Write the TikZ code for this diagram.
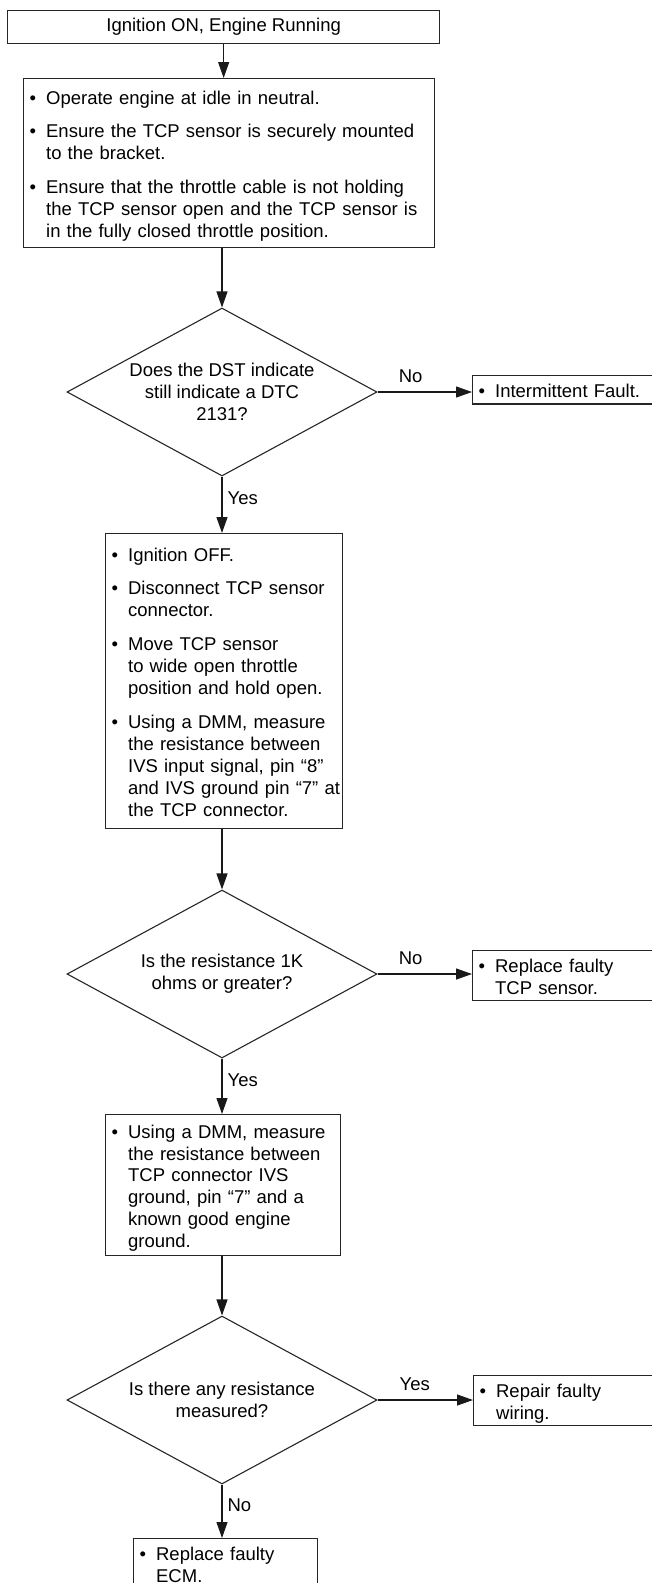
\documentclass[tikz,border=0pt]{standalone}
\usepackage{fontspec}
\setmainfont{Liberation Sans}
\usetikzlibrary{arrows.meta,shapes.geometric}
\newcommand{\flowfont}{\fontsize{18.5pt}{21.8pt}\selectfont}
\newcommand{\itm}[1]{\par\noindent\hbox to 16.5pt{\textbullet\hfil}\begin{tabular}[t]{@{}l@{}}#1\end{tabular}\par}
\newcommand{\itmgap}{\vspace{11.5pt}}
\begin{document}
\begin{tikzpicture}[
    x=1pt,
    y=-1pt,
    box/.style={draw=black!85, line width=1.3pt, inner xsep=6pt, inner ysep=0pt, font=\flowfont, anchor=north west},
    quest/.style={diamond, draw=black!85, line width=1.1pt, minimum width=310pt, minimum height=168pt, inner sep=0pt},
    qtxt/.style={font=\flowfont, align=center, inner sep=0pt},
    arr/.style={-{Triangle[length=16pt,width=11pt]}, line width=1.2pt, draw=black!90},
    ans/.style={font=\flowfont, inner sep=0pt}
]
\useasboundingbox (0,0) rectangle (652,1583);

\node[box, minimum width=432pt, minimum height=33pt] (start) at (7,10) {Ignition ON, Engine Running};
\node[box, text width=399pt, minimum height=169pt] (prep) at (23,78) {%
  \itm{Operate engine at idle in neutral.}\itmgap
  \itm{Ensure the TCP sensor is securely mounted\\to the bracket.}\itmgap
  \itm{Ensure that the throttle cable is not holding\\the TCP sensor open and the TCP sensor is\\in the fully closed throttle position.}};

\node[quest] (q1) at (222,392) {};
\node[qtxt] (q1t) at (q1.center) {Does the DST indicate\\still indicate a DTC\\2131?};
\node[box, text width=216pt, minimum height=28pt] (fault) at (472,375) {\itm{Intermittent Fault.}};

\node[box, text width=225pt, minimum height=295pt] (meas1) at (105,533) {%
  \itm{Ignition OFF.}\itmgap
  \itm{Disconnect TCP sensor\\connector.}\itmgap
  \itm{Move TCP sensor\\to wide open throttle\\position and hold open.}\itmgap
  \itm{Using a DMM, measure\\the resistance between\\IVS input signal, pin “8”\\and IVS ground pin “7” at\\the TCP connector.}};

\node[quest] (q2) at (222,974) {};
\node[qtxt] (q2t) at (q2.center) {Is the resistance 1K\\ohms or greater?};
\node[box, text width=216pt, minimum height=50pt] (sensor) at (472,950) {\itm{Replace faulty\\TCP sensor.}};

\node[box, text width=223pt, minimum height=141pt] (meas2) at (105,1114) {%
  \itm{Using a DMM, measure\\the resistance between\\TCP connector IVS\\ground, pin “7” and a\\known good engine\\ground.}};

\node[quest] (q3) at (222,1400) {};
\node[qtxt] (q3t) at (q3.center) {Is there any resistance\\measured?};
\node[box, text width=216pt, minimum height=50pt] (wiring) at (473,1375) {\itm{Repair faulty\\wiring.}};
\node[box, text width=172pt, minimum height=50pt] (ecm) at (133,1538) {\itm{Replace faulty\\ECM.}};

\draw[arr] (start.south) -- (start.south |- prep.north);
\draw[arr] (q1.north |- prep.south) -- (q1.north);
\draw[arr] (q1.east) -- node[ans, pos=0.35, above=9pt] {No} (q1.east -| fault.west);
\draw[arr] (q1.south) -- node[ans, pos=0.39, right=5pt] {Yes} (q1.south |- meas1.north);
\draw[arr] (q2.north |- meas1.south) -- (q2.north);
\draw[arr] (q2.east) -- node[ans, pos=0.35, above=9pt] {No} (q2.east -| sensor.west);
\draw[arr] (q2.south) -- node[ans, pos=0.39, right=5pt] {Yes} (q2.south |- meas2.north);
\draw[arr] (q3.north |- meas2.south) -- (q3.north);
\draw[arr] (q3.east) -- node[ans, pos=0.39, above=9pt] {Yes} (q3.east -| wiring.west);
\draw[arr] (q3.south) -- node[ans, pos=0.39, right=5pt] {No} (q3.south |- ecm.north);
\end{tikzpicture}
\end{document}
